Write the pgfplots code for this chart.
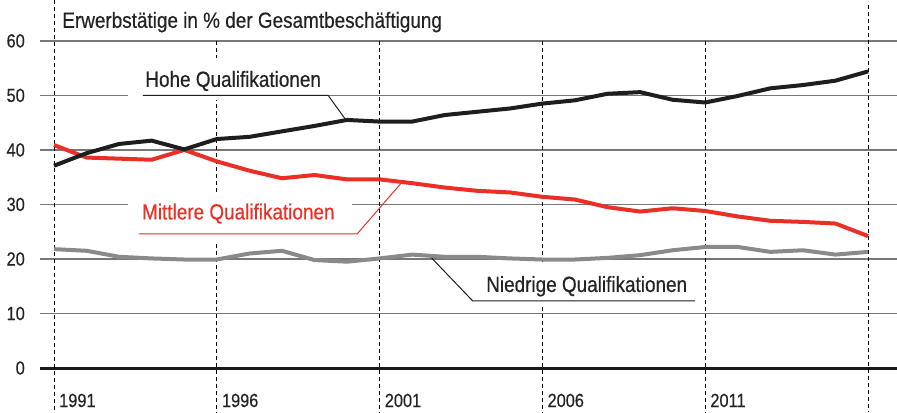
\documentclass[border=0pt]{standalone}
\usepackage{fontspec}
\setmainfont{Liberation Sans}[FakeStretch=0.86, FakeBold=0.4]
\usepackage{pgfplots}
\pgfplotsset{compat=1.18}
\definecolor{hohe}{RGB}{30,30,30}
\definecolor{mittel}{RGB}{234,48,38}
\definecolor{niedrig}{RGB}{138,138,141}
\definecolor{gridc}{RGB}{120,120,120}
\definecolor{txt}{RGB}{35,35,35}
\begin{document}
\begin{tikzpicture}
\begin{axis}[
  scale only axis, width=857pt, height=412pt,
  xmin=1990.57, xmax=2016.89, ymin=-8.07, ymax=67.5,
  axis line style={draw=none}, major tick length=0pt,
  clip=false,
  ytick={0,10,20,30,40,50,60},
  yticklabels={0,10,20,30,40,50,60},
  yticklabel style={font=\fontsize{19}{21}\selectfont, text=txt, inner sep=0pt, anchor=east, xshift=-15pt},
  xtick={1991,1996,2001,2006,2011},
  xticklabels={1991,1996,2001,2006,2011},
  xticklabel style={font=\fontsize{19}{21}\selectfont, text=txt, inner sep=0pt, anchor=base west, xshift=5pt, yshift=5pt},
  /pgf/number format/assume math mode=true,
]
% grid lines
\foreach \v in {10,20,30,40,50,60}{
  \edef\temp{\noexpand\draw[gridc, line width=1.4pt] (axis cs:1990.57,\v) -- (axis cs:2016.89,\v);}
  \temp
}
\draw[black!90, line width=3pt] (axis cs:1990.57,0) -- (axis cs:2016.89,0);
% dashed verticals
\draw[black, line width=0.8pt, dash pattern=on 4pt off 3pt] (axis cs:1991,67.5) -- (axis cs:1991,-8.07);
\draw[black, line width=0.8pt, dash pattern=on 4pt off 3pt] (axis cs:2016,66.5) -- (axis cs:2016,-8.07);
\foreach \yr in {1996,2001,2006,2011}{
  \edef\temp{\noexpand\draw[black, line width=0.8pt, dash pattern=on 4pt off 3pt] (axis cs:\yr,60) -- (axis cs:\yr,-8.07);}
  \temp
}
% label boxes
\fill[white] (axis cs:1993.27,56.9) rectangle (axis cs:1999.45,49.2);
\fill[white] (axis cs:1993.27,32.1) rectangle (axis cs:2000.15,22.9);
\fill[white] (axis cs:2004.09,18.9) rectangle (axis cs:2010.85,11.6);
% leaders
\draw[hohe, line width=1pt] (axis cs:1993.73,50) -- (axis cs:1999.42,50) -- (axis cs:1999.94,45.7);
\draw[mittel, line width=1pt] (axis cs:1993.61,24.59) -- (axis cs:2000.31,24.59) -- (axis cs:2001.69,34.1);
\draw[hohe, line width=1pt] (axis cs:2002.53,20.6) -- (axis cs:2003.86,12.3) -- (axis cs:2010.69,12.3);
% texts
\node[anchor=base west, inner sep=0pt, text=txt, font=\fontsize{22}{24}\selectfont] at (axis cs:1991.25,62.4) {Erwerbstätige in \% der Gesamtbeschäftigung};
\node[anchor=base west, inner sep=0pt, text=txt, font=\fontsize{22}{24}\selectfont] at (axis cs:1993.8,51.57) {Hohe Qualifikationen};
\node[anchor=base west, inner sep=0pt, text=mittel, font=\fontsize{22}{24}\selectfont] at (axis cs:1993.70,27.25) {Mittlere Qualifikationen};
\node[anchor=base west, inner sep=0pt, text=txt, font=\fontsize{22}{24}\selectfont] at (axis cs:2004.27,13.95) {Niedrige Qualifikationen};
% data
\addplot[niedrig, line width=4pt, line join=round] coordinates {
(1991,21.8) (1992,21.5) (1993,20.4) (1994,20.1) (1995,19.9) (1996,19.9) (1997,21.0) (1998,21.5) (1999,19.8) (2000,19.5) (2001,20.1) (2002,20.8) (2003,20.4) (2004,20.4) (2005,20.1) (2006,19.9) (2007,19.9) (2008,20.2) (2009,20.7) (2010,21.6) (2011,22.2) (2012,22.2) (2013,21.3) (2014,21.6) (2015,20.8) (2016,21.3)};
\addplot[mittel, line width=4pt, line join=round] coordinates {
(1991,40.9) (1992,38.6) (1993,38.4) (1994,38.2) (1995,40.0) (1996,37.9) (1997,36.2) (1998,34.8) (1999,35.4) (2000,34.6) (2001,34.6) (2002,33.9) (2003,33.1) (2004,32.5) (2005,32.2) (2006,31.4) (2007,30.9) (2008,29.5) (2009,28.7) (2010,29.3) (2011,28.8) (2012,27.8) (2013,27.0) (2014,26.8) (2015,26.5) (2016,24.2)};
\addplot[hohe, line width=4pt, line join=round] coordinates {
(1991,37.1) (1992,39.4) (1993,41.1) (1994,41.7) (1995,40.1) (1996,42.0) (1997,42.4) (1998,43.4) (1999,44.4) (2000,45.5) (2001,45.2) (2002,45.2) (2003,46.4) (2004,47.0) (2005,47.6) (2006,48.5) (2007,49.1) (2008,50.3) (2009,50.6) (2010,49.2) (2011,48.7) (2012,49.9) (2013,51.3) (2014,51.9) (2015,52.7) (2016,54.4)};
\end{axis}
\pgfresetboundingbox
\useasboundingbox ([xshift=-40pt]current axis.south west) rectangle (current axis.north east);
\end{tikzpicture}
\end{document}
